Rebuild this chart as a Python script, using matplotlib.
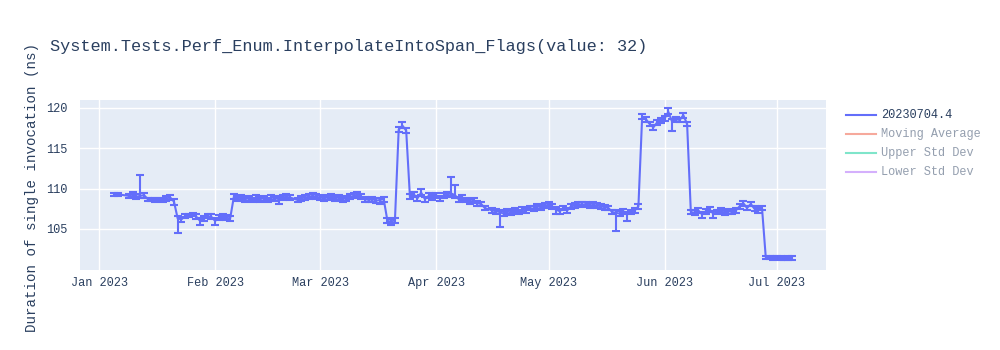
import matplotlib
matplotlib.use("Agg")
import matplotlib.pyplot as plt
import matplotlib.dates as mdates
from matplotlib.lines import Line2D
import datetime as dt

# ---------------- data ----------------
title = "System.Tests.Perf_Enum.InterpolateIntoSpan_Flags(value: 32)"
ylabel = "Duration of single invocation (ns)"
series_names = ["20230704.4", "Moving Average", "Upper Std Dev", "Lower Std Dev"]

jan_days = [5, 6, 9, 10, 11, 12, 13, 14, 15, 16, 17, 18, 19, 20, 21, 22, 23, 24, 25, 26, 27, 28, 29, 30, 31]
jan_vals = [109.3, 109.3, 109.1, 109.3, 109.0, 109.1, 109.2, 108.7, 108.7, 108.6, 108.7, 108.6, 108.8, 108.9,
            108.4, 106.3, 106.2, 106.6, 106.7, 106.8, 106.5, 106.0, 106.3, 106.6, 106.5]
jan_up = [0.2, 0.2, 0.2, 0.3, 0.3, 2.6, 0.3, 0.2, 0.2, 0.2, 0.2, 0.2, 0.3, 0.3, 0.3, 0.3, 0.3, 0.3, 0.2, 0.2,
          0.3, 0.3, 0.3, 0.2, 0.3]
jan_dn = [0.2, 0.2, 0.2, 0.3, 0.3, 0.3, 0.3, 0.2, 0.2, 0.2, 0.2, 0.2, 0.3, 0.3, 0.4, 1.8, 0.3, 0.3, 0.2, 0.2,
          0.3, 0.5, 0.3, 0.2, 0.3]

feb_days = [1, 2, 3, 4, 5, 6, 7, 8, 9, 10, 11, 12, 13, 14, 15, 16, 17, 18, 19, 20, 21, 23, 24, 25, 26, 27, 28]
feb_vals = [106.0, 106.4, 106.6, 106.4, 106.3, 109.0, 108.8, 108.9, 108.7, 108.8, 108.6, 108.9, 108.7, 108.8,
            108.6, 108.9, 108.8, 108.7, 108.9, 109.0, 108.9, 108.6, 108.8, 108.9, 109.0, 109.1, 109.0]
feb_up = [0.3, 0.3, 0.3, 0.3, 0.3, 0.3, 0.3, 0.3, 0.3, 0.3, 0.3, 0.3, 0.3, 0.3, 0.3, 0.3, 0.3, 0.3, 0.3, 0.3,
          0.3, 0.3, 0.3, 0.3, 0.3, 0.3, 0.3]
feb_dn = [0.5, 0.3, 0.3, 0.3, 0.3, 0.3, 0.3, 0.3, 0.3, 0.3, 0.3, 0.3, 0.3, 0.3, 0.3, 0.3, 0.3, 0.6, 0.3, 0.3,
          0.3, 0.3, 0.3, 0.3, 0.3, 0.3, 0.3]

mar_days = list(range(1, 32))
mar_vals = [108.9, 108.8, 108.9, 109.0, 108.8, 108.9, 108.7, 108.8, 109.0, 109.1, 109.3, 109.0, 108.7, 108.6,
            108.7, 108.5, 108.6, 108.7, 106.0, 105.9, 106.1, 117.3, 117.8, 117.2, 109.0, 109.3, 108.8, 109.5,
            108.7, 109.1, 108.9]
mar_up = [0.3, 0.3, 0.3, 0.3, 0.3, 0.3, 0.3, 0.3, 0.3, 0.3, 0.3, 0.3, 0.3, 0.3, 0.3, 0.3, 0.3, 0.3, 0.3, 0.3,
          0.3, 0.3, 0.4, 0.3, 0.3, 0.3, 0.3, 0.5, 0.3, 0.3, 0.3]
mar_dn = [0.3, 0.3, 0.3, 0.3, 0.3, 0.3, 0.3, 0.3, 0.3, 0.3, 0.3, 0.3, 0.3, 0.3, 0.3, 0.3, 0.5, 0.3, 0.3, 0.4,
          0.3, 0.3, 0.3, 0.3, 0.3, 0.3, 0.3, 0.3, 0.3, 0.3, 0.3]

apr_days = [1, 2, 3, 4, 5, 6, 7, 8, 9, 10, 11, 12, 13, 14, 16, 17, 18, 19, 20, 21, 22, 23, 24, 25, 26, 27, 28, 29, 30]
apr_vals = [109.2, 108.8, 109.1, 109.3, 109.4, 109.2, 108.7, 108.9, 108.6, 108.4, 108.5, 108.2, 108.1, 107.6,
            107.3, 107.2, 107.1, 106.9, 107.2, 107.0, 107.3, 107.1, 107.4, 107.3, 107.6, 107.5, 107.8, 107.7, 107.9]
apr_up = [0.3, 0.3, 0.3, 0.3, 2.0, 1.3, 0.3, 0.3, 0.3, 0.3, 0.3, 0.3, 0.3, 0.3, 0.3, 0.3, 0.3, 0.3, 0.3, 0.3,
          0.3, 0.3, 0.3, 0.3, 0.3, 0.3, 0.3, 0.3, 0.3]
apr_dn = [0.3, 0.3, 0.3, 0.3, 0.3, 0.3, 0.3, 0.3, 0.3, 0.3, 0.3, 0.3, 0.3, 0.3, 0.3, 0.3, 1.8, 0.3, 0.3, 0.3,
          0.3, 0.3, 0.3, 0.3, 0.3, 0.3, 0.3, 0.3, 0.3]

may_days = list(range(1, 32))
may_vals = [108.0, 107.8, 107.4, 107.2, 107.6, 107.3, 107.8, 107.9, 108.1, 108.0, 108.1, 107.9, 108.0, 107.9,
            107.8, 107.7, 107.6, 107.1, 107.0, 106.9, 107.2, 106.8, 107.1, 107.3, 107.8, 118.9, 118.6, 118.0,
            117.6, 118.2, 118.4]
may_up = [0.3, 0.3, 0.3, 0.3, 0.3, 0.3, 0.3, 0.3, 0.3, 0.3, 0.3, 0.3, 0.3, 0.3, 0.3, 0.3, 0.3, 0.3, 0.3, 0.3,
          0.3, 0.3, 0.3, 0.3, 0.3, 0.3, 0.3, 0.3, 0.3, 0.3, 0.3]
may_dn = [0.3, 0.3, 0.5, 0.3, 0.3, 0.3, 0.3, 0.3, 0.3, 0.3, 0.3, 0.3, 0.3, 0.3, 0.3, 0.3, 0.3, 0.3, 2.2, 0.3,
          0.3, 0.8, 0.3, 0.3, 0.3, 0.3, 0.3, 0.3, 0.3, 0.3, 0.3]

jun_days = list(range(1, 31))
jun_vals = [118.7, 119.5, 118.3, 118.6, 118.5, 119.1, 118.0, 107.1, 107.0, 107.3, 106.8, 107.2, 107.4, 106.9,
            107.1, 107.3, 107.0, 107.2, 107.1, 107.3, 107.8, 108.2, 107.6, 108.1, 107.5, 107.3, 107.6, 101.5,
            101.5, 101.4]
jun_up = [0.3, 0.5, 0.3, 0.3, 0.3, 0.3, 0.3, 0.3, 0.3, 0.3, 0.3, 0.3, 0.3, 0.3, 0.3, 0.3, 0.3, 0.3, 0.3, 0.3,
          0.3, 0.3, 0.3, 0.3, 0.3, 0.3, 0.3, 0.2, 0.2, 0.2]
jun_dn = [0.3, 0.3, 1.2, 0.3, 0.3, 0.3, 0.3, 0.3, 0.3, 0.3, 0.5, 0.3, 0.3, 0.5, 0.3, 0.3, 0.3, 0.3, 0.3, 0.3,
          0.3, 0.3, 0.3, 0.3, 0.3, 0.3, 0.3, 0.2, 0.2, 0.2]

jul_days = [1, 2, 3, 4, 5]
jul_vals = [101.5, 101.4, 101.3, 101.4, 101.4]
jul_up = [0.2, 0.2, 0.2, 0.2, 0.2]
jul_dn = [0.2, 0.2, 0.2, 0.2, 0.2]

months = [
    (1, jan_days, jan_vals, jan_up, jan_dn),
    (2, feb_days, feb_vals, feb_up, feb_dn),
    (3, mar_days, mar_vals, mar_up, mar_dn),
    (4, apr_days, apr_vals, apr_up, apr_dn),
    (5, may_days, may_vals, may_up, may_dn),
    (6, jun_days, jun_vals, jun_up, jun_dn),
    (7, jul_days, jul_vals, jul_up, jul_dn),
]
dates, vals, ups, dns = [], [], [], []
for m, d, v, u, n in months:
    dates += [dt.datetime(2023, m, k) for k in d]
    vals += v
    ups += u
    dns += n

# ---------------- figure ----------------
FONT = ["Liberation Mono", "DejaVu Sans Mono"]
TXT = "#2a3f5f"
BLUE = "#636efa"

plt.rcParams["font.family"] = FONT
fig = plt.figure(figsize=(10, 3.5), dpi=100)
ax = fig.add_axes([0.080, 1 - 270 / 350, 0.746, 170 / 350])
ax.set_facecolor("#E5ECF6")
for s in ax.spines.values():
    s.set_visible(False)

ax.errorbar(dates, vals, yerr=[dns, ups], color=BLUE, lw=1.5, elinewidth=1.5,
            capsize=3.2, capthick=1.5, zorder=3)

ax.set_xlim(dt.datetime(2022, 12, 26, 22), dt.datetime(2023, 7, 14, 2))
ax.set_ylim(99.92, 120.98)
ax.set_yticks([105, 110, 115, 120])
ax.xaxis.set_major_locator(mdates.MonthLocator())
ax.xaxis.set_major_formatter(mdates.DateFormatter("%b %Y"))
ax.tick_params(axis="both", length=0, labelsize=8.6, labelcolor=TXT)
ax.tick_params(axis="x", pad=5)
ax.tick_params(axis="y", pad=9)
ax.grid(True, color="white", lw=1)
ax.set_axisbelow(True)

fig.text(0.050, 1 - 46 / 350, title, fontsize=12.2, color=TXT, va="center", ha="left")
fig.text(0.032, 1 - 187 / 350, ylabel, fontsize=10.2, color=TXT, rotation=90,
         va="center", ha="center")

# legend
leg_colors = [BLUE, "#EF553B", "#00CC96", "#AB63FA"]
leg_alpha = [1.0, 0.5, 0.5, 0.5]
leg_y = [115, 134, 153, 172]
for name, c, a, yy in zip(series_names, leg_colors, leg_alpha, leg_y):
    yf = 1 - yy / 350
    fig.add_artist(Line2D([0.846, 0.876], [yf, yf], color=c, alpha=a, lw=1.5,
                          transform=fig.transFigure))
    fig.text(0.881, yf, name, fontsize=8.6, color=TXT, alpha=a, va="center", ha="left")

fig.savefig("out.png", dpi=100, facecolor="white")
